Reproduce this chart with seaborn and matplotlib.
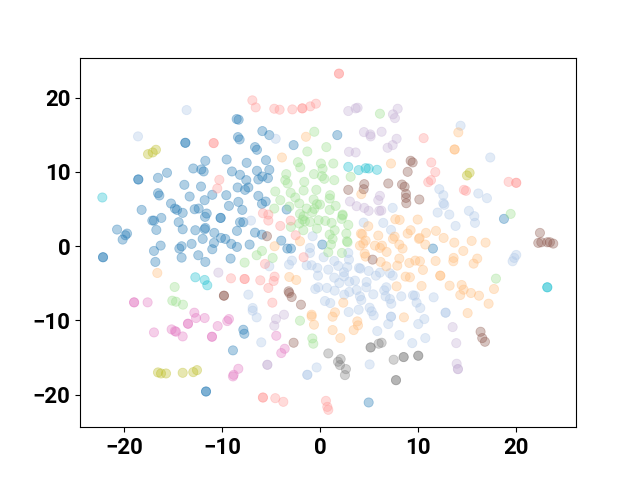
import pandas as pd
import matplotlib
matplotlib.use('Agg')
import matplotlib.pyplot as plt
import seaborn as sns

blue = [(-8.53,17.12),(-8.33,17.03),(-8.4,14.69),(-8.23,14.37),(-13.77,13.92),(-13.77,13.92),(-18.57,8.98),(-18.57,8.98),
        (-5.91,15.5),(-5.2,14.96),(-2.72,13.61),(-6.66,13.34),(-6.46,12.98),(-11.73,11.49),(-12.96,10.46),(-12.14,10.33),
        (-11.9,10.06),(-9.55,11.67),(-7.51,11.22),(-5.54,11.58),(-9.01,10.06),(-8.19,9.61),(-6.46,10.15),(-5.2,10.28),
        (-5.91,9.38),(-6.32,8.98),(-5.34,9.16),(-16.56,9.2),(-15.64,9.88),(-13.87,8.26),(-12.17,8.03),(-7.55,8.89),
        (-8.43,7.9),(-7.68,7.58),(-7.34,7.9),(-16.56,7.13),(-16.42,6.82),(-13.33,6.68),(-11.02,6.91),(-9.59,6.86),
        (-11.8,6.19),(-6.32,6.77),(-5.57,6.01),(-5.95,5.69),(-15.23,5.74),(-14.83,5.06),(-14.62,4.88),(-12.82,4.97),
        (-12.41,5.06),(-9.32,5.42),(-8.36,5.96),(-7.96,4.88),(-18.23,4.88),(-14.04,4.48),(-11.59,4.39),(-11.76,3.94),
        (-17.14,3.44),(-16.97,3.44),(-16.22,3.8),(-14.45,3.22),(-10.17,3.8),(-10.17,3.8),(-8.19,3.22),(-7.85,3.22),
        (-14.04,2.27),(-12.75,2.14),(-11.8,2.27),(-11.73,2.45),(-16.73,2.18),(-20.74,2.23),(-19.72,1.69),(-19.89,1.46),
        (-20.17,0.88),(-10.81,1.78),(-8.5,2.05),(-6.66,1.82),(-5.95,1.55),(-3.98,0.74),(-3.43,4.93),(-10.13,1.1),
        (-9.69,0.97),(-12.0,0.97),(-22.17,-1.5),(-22.17,-1.5),(-16.97,-0.65),(-16.29,0.07),(-16.83,-2.13),(-14.38,-0.33),
        (-14.15,-0.02),(-14.15,-1.55),(-13.13,0.3),(-12.45,-1.23),(-11.73,-2.13),(-11.02,-0.42),(-10.85,0.43),(-9.15,-1.68),
        (-9.08,0.3),(-8.5,-0.11),(-7.21,0.21),(-3.36,-0.33),(-2.99,-0.33),(-7.85,-11.27),(-7.75,-11.81),(-8.91,-14.05),
        (-11.66,-19.59),(-11.66,-19.59),(1.74,14.96),(18.75,3.67),(0.21,0.21),(11.5,-0.33),(4.94,-21.07)]

light_blue = [(-13.64,18.33),(-18.6,14.78),(-4.55,14.46),(-7.07,3.44),(-0.78,1.33),(-1.05,-0.24),(-1.05,-0.92),(-2.89,-1.95),
              (-3.19,-2.49),(-5.2,-2.72),(-1.39,-2.58),(-0.88,-2.58),(-0.3,-2.94),(-0.23,-3.98),(-0.51,-5.78),(-0.2,-5.55),
              (-7.34,-6.54),(-6.9,-8.34),(-6.9,-8.7),(-6.49,-9.6),(-6.02,-12.97),(-0.37,-16.35),(-1.32,-17.34),(-1.32,-17.34),
              (14.32,16.22),(17.35,11.94),(12.15,7.67),(12.56,6.86),(16.13,7.09),(17.01,6.46),(12.56,5.78),(12.66,5.56),
              (7.39,5.15),(11.98,4.52),(13.17,4.25),(15.17,4.75),(15.72,4.03),(15.79,3.13),(13.81,2.72),(4.43,3.17),
              (6.43,3.13),(7.22,2.18),(2.86,-0.92),(2.93,-1.82),(1.43,-2.0),(1.84,-2.67),(0.34,-1.5),(2.76,-2.81),
              (0.82,-3.17),(2.42,-3.53),(3.95,-2.94),(4.09,-3.03),(4.94,-3.35),(6.09,-3.57),(5.68,-3.98),(7.11,-3.66),
              (7.39,-3.98),(1.43,-4.25),(2.42,-4.07),(1.94,-4.97),(2.96,-4.79),(3.54,-4.65),(4.73,-4.83),(4.7,-5.55),
              (6.74,-5.55),(6.53,-5.96),(0.68,-5.64),(1.47,-6.0),(2.96,-6.18),(2.45,-6.54),(3.71,-5.91),(5.41,-6.5),
              (4.05,-6.77),(4.19,-7.26),(6.67,-6.77),(7.11,-7.13),(7.25,-7.76),(8.27,-6.77),(9.46,-6.63),(9.66,-6.68),
              (9.83,-7.62),(10.21,-8.34),(11.57,-6.9),(0.48,-7.4),(1.02,-7.67),(5.04,-8.3),(5.24,-8.79),(5.45,-9.33),
              (3.92,-8.57),(2.9,-8.88),(7.22,-9.51),(7.22,-9.51),(6.94,-10.5),(10.62,-9.83),(10.0,-10.5),(5.82,-11.45),
              (8.07,-11.99),(9.39,-13.07),(10.72,-12.39),(12.79,-8.97),(12.79,-8.97),(5.04,-15.94),(19.63,-2.04),(19.8,-1.59),
              (20.0,-1.19)]

light_orange = [(-1.46,14.73),(-3.91,11.94),(-4.66,-0.02),(-2.07,0.66),(-16.63,-3.62),(-3.16,-4.16),(-2.45,-4.56),(-0.88,-9.24),
                (-0.88,-9.47),(-0.64,-10.59),(14.09,15.32),(13.71,13.02),(13.71,13.02),(7.22,11.13),(4.19,7.0),(7.66,3.62),
                (8.1,3.53),(9.94,3.58),(4.9,2.68),(4.15,1.69),(4.29,1.6),(5.92,1.42),(9.22,2.14),(8.92,1.69),(10.79,1.78),
                (11.81,2.05),(12.59,1.1),(7.59,1.28),(7.42,0.97),(10.07,0.97),(10.14,1.1),(13.68,0.47),(15.45,0.7),
                (16.87,0.47),(4.05,0.07),(4.39,0.34),(4.63,0.74),(5.58,0.07),(6.09,-0.24),(6.3,0.07),(6.77,-0.78),
                (8.07,0.21),(8.4,-0.33),(10.72,0.21),(14.6,-0.65),(4.53,-1.01),(4.63,-1.41),(6.16,-2.13),(6.74,-2.72),
                (8.07,-1.68),(7.86,-2.63),(9.09,-2.27),(9.7,-1.95),(10.17,-2.04),(10.48,-3.21),(11.77,-2.0),(13.61,-1.59),
                (13.58,-2.04),(16.02,-1.68),(15.65,-2.36),(8.71,-4.11),(9.15,-4.2),(12.25,-3.98),(12.25,-3.98),(7.79,-5.42),
                (10.34,-5.37),(13.2,-5.33),(14.43,-5.24),(14.63,-5.87),(14.29,-6.59),(15.38,-6.32),(16.2,-6.68),(17.73,-5.78),
                (17.18,-7.76),(15.04,-9.02),(8.54,-9.6),(2.35,-7.62),(1.5,-8.93),(1.26,-9.51),(1.26,-11.31),(2.05,-12.39),
                (3.78,-10.14),(3.85,-10.68),(3.41,-11.31)]

light_green = [(-0.61,15.41),(-1.32,12.75),(-2.28,11.31),(-2.04,10.6),(-0.64,9.7),(0.17,9.43),(-3.47,9.7),(-3.57,8.89),
               (-3.33,8.44),(-1.63,8.66),(-4.59,7.36),(-3.02,7.18),(-1.7,7.49),(-0.4,7.58),(-4.08,6.19),(-2.55,6.55),
               (-2.14,5.74),(-3.16,5.33),(-4.69,5.06),(-0.68,6.28),(-0.34,5.65),(-0.61,5.02),(-0.81,4.57),(-1.39,5.06),
               (-2.07,4.34),(-1.7,4.03),(-1.8,3.58),(-1.56,3.35),(-1.05,3.26),(-0.17,3.49),(-2.14,3.04),(-3.0,2.59),
               (-1.73,2.14),(-0.34,2.36),(6.09,17.84),(0.62,13.34),(1.33,11.13),(0.07,11.13),(0.24,10.42),(0.41,9.07),
               (1.43,8.89),(3.1,9.34),(1.0,6.86),(0.96,6.41),(1.57,5.42),(0.96,4.88),(2.28,4.25),(2.28,4.12),(2.18,3.67),
               (0.51,3.4),(1.16,3.13),(2.86,2.86),(1.47,2.14),(2.66,1.69),(0.96,1.55),(1.26,0.97),(2.72,0.65),(2.79,0.52),
               (-0.03,5.6),(-6.49,-1.23),(-5.95,-0.65),(-4.86,-1.59),(-7.72,-2.22),(0.82,-0.83),(1.09,0.21),(2.21,-0.92),
               (-14.86,-5.51),(-15.1,-7.35),(-14.72,-7.49),(-14.01,-7.89),(-2.07,-10.05),(-0.81,-12.44),(-0.71,-13.15),
               (17.93,-4.38),(19.43,4.34)]

light_red = [(-6.93,19.64),(-6.59,18.69),(-4.69,18.51),(-4.15,18.38),(-2.85,18.42),(-1.83,18.56),(-1.83,18.56),(-1.02,18.83),
             (-0.44,19.19),(-10.88,13.88),(-10.88,13.88),(-10.3,8.93),(-10.51,7.76),(-5.85,4.43),(-5.3,4.25),(-5.3,3.44),
             (-4.08,2.72),(-3.02,3.44),(-2.51,1.46),(1.91,23.24),(1.91,23.24),(10.55,14.55),(11.33,11.27),(11.74,9.97),
             (11.3,8.89),(11.02,8.62),(14.66,7.58),(14.87,7.45),(19.22,8.66),(20.0,8.53),(20.0,8.53),(-5.64,-2.4),(-1.7,-1.5),
             (-9.11,-4.34),(-7.72,-4.43),(-7.72,-4.43),(-6.12,-4.61),(-4.66,-4.11),(-4.76,-4.7),(-5.3,-5.64),(-4.89,-7.62),
             (-5.85,-20.4),(-5.85,-20.4),(-4.59,-20.49),(-3.77,-20.98),(0.58,-20.85),(0.72,-21.66),(0.82,-22.06)]

light_purple = [(2.86,18.2),(3.61,18.56),(3.81,18.65),(7.42,17.75),(7.9,18.51),(7.62,17.25),(4.46,15.36),(5.11,15.05),
                (5.14,14.78),(6.26,15.41),(7.79,14.46),(7.39,13.61),(6.87,13.25),(2.93,12.71),(3.61,12.62),(6.09,6.77),
                (5.92,6.19),(3.03,6.01),(3.71,5.38),(4.49,5.15),(4.94,4.75),(6.02,4.75),(6.23,4.79),(-10.4,-3.57),
                (-3.7,-9.24),(-4.52,-9.83),(-4.69,-10.73),(-5.4,-15.99),(-5.4,-15.99),(13.51,-10.91),(13.88,-13.07),
                (13.92,-15.85),(14.05,-16.57),(14.05,-16.57)]

brown = [(9.22,11.5),(9.43,11.27),(8.92,10.01),(6.94,8.44),(8.34,8.3),(8.61,8.0),(4.49,8.35),(4.43,7.67),(2.86,7.58),
         (8.75,7.04),(8.75,6.5),(8.78,5.78),(10.11,6.28),(22.42,1.78),(22.25,0.43),(22.56,0.52),(23.17,0.52),(23.44,0.52),
         (23.78,0.34),(16.36,-11.54),(16.53,-12.39),(16.81,-12.89),(5.34,-1.82),(-5.44,1.33),(-9.83,-6.68),(-9.83,-6.68),
         (-3.23,-6.09),(-3.16,-6.32),(-2.92,-6.86),(-1.97,-7.89),(-2.72,-13.02)]

pink = [(-19.0,-7.58),(-19.0,-7.58),(-17.62,-7.58),(-16.97,-11.63),(-15.17,-11.22),(-14.83,-11.45),(-14.72,-11.54),
        (-14.04,-12.17),(-13.5,-10.46),(-13.5,-10.46),(-12.85,-8.97),(-12.68,-9.69),(-11.8,-9.69),(-10.47,-10.77),
        (-9.49,-10.1),(-9.32,-9.83),(-11.05,-12.21),(-11.05,-12.21),(-4.49,-12.08),(-3.63,-13.83),(-3.98,-14.41),
        (-8.36,-16.53),(-8.84,-17.34),(-8.91,-17.56)]

gray = [(0.82,-14.46),(2.08,-15.22),(1.81,-15.58),(2.01,-16.03),(2.62,-16.57),(2.52,-17.38),(5.14,-13.65),(5.14,-13.65),
        (5.96,-13.15),(6.26,-13.02),(7.49,-15.31),(8.51,-14.95),(8.51,-14.95),(10.0,-14.77),(10.0,-14.77),(7.73,-18.06),
        (7.73,-18.06)]

olive = [(-17.58,12.39),(-17.1,12.62),(-16.77,12.98),(14.97,9.52),(15.24,9.88),(-16.56,-17.02),(-16.25,-17.16),
         (-15.74,-17.16),(-14.04,-17.07),(-12.96,-16.98),(-12.58,-16.71)]

cyan = [(-22.24,6.55),(2.86,10.68),(3.92,10.24),(4.63,10.5),(4.94,10.46),(5.79,10.28),(-12.75,-4.2),(-11.8,-4.56),
        (-11.53,-5.28),(23.17,-5.55),(23.17,-5.55)]

groups = {'blue': blue, 'light_blue': light_blue, 'light_orange': light_orange, 'light_green': light_green,
          'light_red': light_red, 'light_purple': light_purple, 'brown': brown, 'pink': pink, 'gray': gray,
          'olive': olive, 'cyan': cyan}
colors = {'blue': '#1f77b4', 'light_blue': '#aec7e8', 'light_orange': '#ffbb78', 'light_green': '#98df8a',
          'light_red': '#ff9896', 'light_purple': '#c5b0d5', 'brown': '#8c564b', 'pink': '#e377c2', 'gray': '#7f7f7f',
          'olive': '#bcbd22', 'cyan': '#17becf'}

rows = [(x, y, name) for name, pts in groups.items() for x, y in pts]
df = pd.DataFrame(rows, columns=['x', 'y', 'label'])

plt.rcParams['font.family'] = ['Roboto', 'DejaVu Sans']
plt.figure(figsize=(6.4, 4.8), dpi=100)
ax = sns.scatterplot(x='x', y='y', hue='label', data=df, palette=colors, s=44, alpha=0.35,
                     edgecolor='face', linewidth=0.6, legend=False)
ax.set_xlim(-24.52, 26.1)
ax.set_ylim(-24.4, 25.4)
ax.set_xticks([-20, -10, 0, 10, 20])
ax.set_yticks([-20, -10, 0, 10, 20])
ax.set_xlabel('')
ax.set_ylabel('')
for t in ax.get_xticklabels() + ax.get_yticklabels():
    t.set_fontsize(16)
    t.set_fontweight('bold')
plt.savefig('out.png', dpi=100)
